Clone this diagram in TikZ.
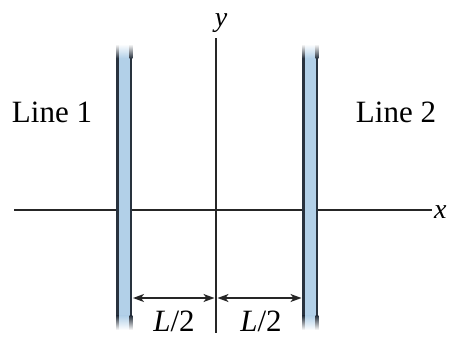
\documentclass[tikz,border=0pt]{standalone}
\usepackage{fontspec}
\setmainfont{Liberation Serif}
\usetikzlibrary{arrows.meta}
\definecolor{wirefill}{RGB}{178,208,232}
\definecolor{wireedge}{RGB}{40,50,62}
\tikzset{
  axisline/.style={line width=1.6pt, black!85},
  dimline/.style={line width=1.4pt, black!85, {Stealth[length=11pt,width=8pt,inset=3pt]}-{Stealth[length=11pt,width=8pt,inset=3pt]}},
  lbl/.style={font=\fontsize{31}{34}\selectfont, inner sep=0pt},
}
% #1 left x, #2 right x
\newcommand{\mywire}[2]{%
  \begin{scope}
    % body
    \fill[wirefill] (#1,58) rectangle (#2,316);
    \shade[top color=white, bottom color=wirefill] (#1,44) rectangle (#2,58.2);
    \shade[top color=wirefill, bottom color=white] (#1,315.8) rectangle (#2,330);
    % left edge
    \fill[wireedge] (#1-1.1,58) rectangle (#1+1.3,316);
    \shade[top color=white, bottom color=wireedge] (#1-1.1,44) rectangle (#1+1.3,58.2);
    \shade[top color=wireedge, bottom color=white] (#1-1.1,315.8) rectangle (#1+1.3,330);
    % right edge
    \fill[wireedge] (#2-1.5,58) rectangle (#2+1.3,316);
    \shade[top color=white, bottom color=wireedge] (#2-1.5,44) rectangle (#2+1.3,58.2);
    \shade[top color=wireedge, bottom color=white] (#2-1.5,315.8) rectangle (#2+1.3,330);
  \end{scope}}
\begin{document}
\begin{tikzpicture}[x=1pt,y=-1pt]
\useasboundingbox (0,0) rectangle (450,338);
\fill[white] (0,0) rectangle (450,338);
% axes
\coordinate (xl) at (14,210);
\coordinate (xr) at (432,210);
\coordinate (yt) at (216,38);
\coordinate (yb) at (216,333);
\draw[axisline] (xl) -- (xr);
\draw[axisline] (yt) -- (yb);
\node[lbl, font=\fontsize{28}{30}\selectfont\itshape, anchor=west] (xlab) at (434,212) {x};
\node[lbl, font=\fontsize{28}{30}\selectfont\itshape, anchor=south] (ylab) at (221,33) {y};
% wires
\mywire{117.5}{131}
\mywire{303.5}{317}
\coordinate (w1) at (132.5,298);
\coordinate (w2) at (302,298);
\coordinate (ym) at (216,298);
\draw[dimline] ([xshift=0.5pt]w1) -- ([xshift=-1.5pt]ym);
\draw[dimline] ([xshift=1.5pt]ym) -- ([xshift=-0.5pt]w2);
% labels
\node[lbl] (l1) at (52,112) {Line 1};
\node[lbl] (l2) at (396,112) {Line 2};
\node[lbl] (d1) at (174,321) {\itshape L\/\upshape/2};
\node[lbl] (d2) at (261,321) {\itshape L\/\upshape/2};
\end{tikzpicture}
\end{document}
